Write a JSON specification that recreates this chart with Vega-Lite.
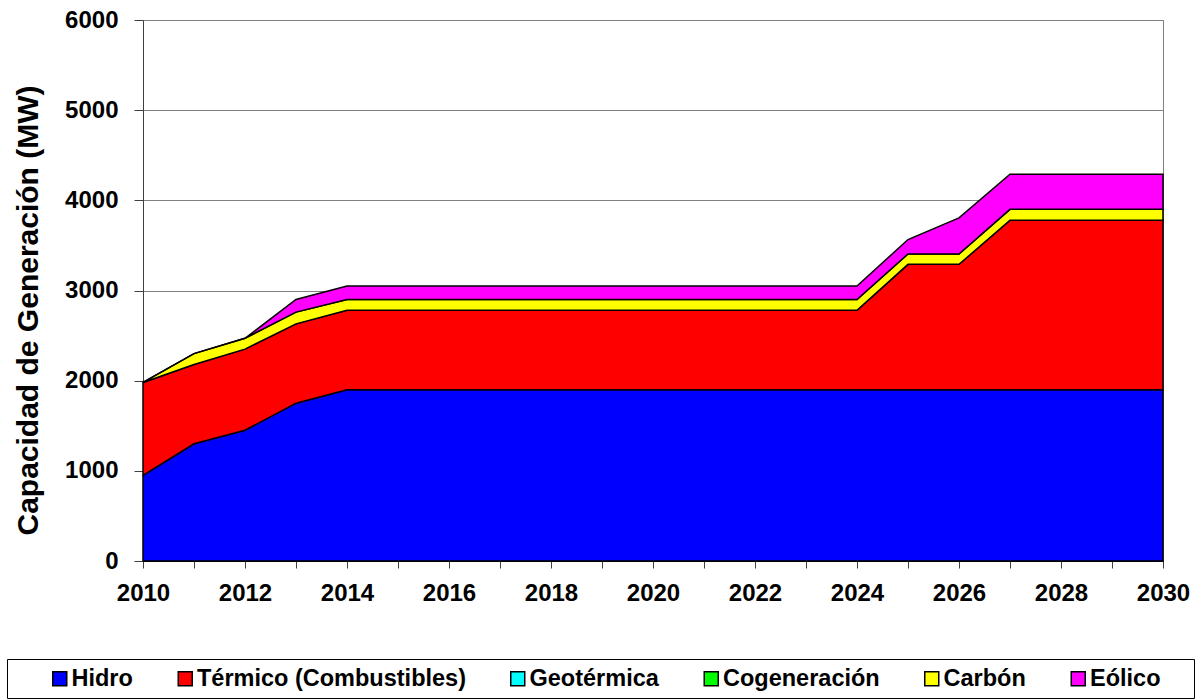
{
  "$schema": "https://vega.github.io/schema/vega-lite/v6.json",
  "width": 1020,
  "height": 541,
  "autosize": {"type": "none"},
  "padding": {"left": 143, "top": 20, "right": 38, "bottom": 138},
  "background": "white",
  "config": {
    "font": "Liberation Sans",
    "view": {"stroke": "#808080", "strokeWidth": 1}
  },
  "data": {
    "values": [
      {"anio": 2010, "fuente": "Hidro", "orden": 1, "mw": 950},
      {"anio": 2011, "fuente": "Hidro", "orden": 1, "mw": 1300},
      {"anio": 2012, "fuente": "Hidro", "orden": 1, "mw": 1450},
      {"anio": 2013, "fuente": "Hidro", "orden": 1, "mw": 1750},
      {"anio": 2014, "fuente": "Hidro", "orden": 1, "mw": 1900},
      {"anio": 2015, "fuente": "Hidro", "orden": 1, "mw": 1900},
      {"anio": 2016, "fuente": "Hidro", "orden": 1, "mw": 1900},
      {"anio": 2017, "fuente": "Hidro", "orden": 1, "mw": 1900},
      {"anio": 2018, "fuente": "Hidro", "orden": 1, "mw": 1900},
      {"anio": 2019, "fuente": "Hidro", "orden": 1, "mw": 1900},
      {"anio": 2020, "fuente": "Hidro", "orden": 1, "mw": 1900},
      {"anio": 2021, "fuente": "Hidro", "orden": 1, "mw": 1900},
      {"anio": 2022, "fuente": "Hidro", "orden": 1, "mw": 1900},
      {"anio": 2023, "fuente": "Hidro", "orden": 1, "mw": 1900},
      {"anio": 2024, "fuente": "Hidro", "orden": 1, "mw": 1900},
      {"anio": 2025, "fuente": "Hidro", "orden": 1, "mw": 1900},
      {"anio": 2026, "fuente": "Hidro", "orden": 1, "mw": 1900},
      {"anio": 2027, "fuente": "Hidro", "orden": 1, "mw": 1900},
      {"anio": 2028, "fuente": "Hidro", "orden": 1, "mw": 1900},
      {"anio": 2029, "fuente": "Hidro", "orden": 1, "mw": 1900},
      {"anio": 2030, "fuente": "Hidro", "orden": 1, "mw": 1900},
      {"anio": 2010, "fuente": "Térmico (Combustibles)", "orden": 2, "mw": 1030},
      {"anio": 2011, "fuente": "Térmico (Combustibles)", "orden": 2, "mw": 880},
      {"anio": 2012, "fuente": "Térmico (Combustibles)", "orden": 2, "mw": 900},
      {"anio": 2013, "fuente": "Térmico (Combustibles)", "orden": 2, "mw": 880},
      {"anio": 2014, "fuente": "Térmico (Combustibles)", "orden": 2, "mw": 880},
      {"anio": 2015, "fuente": "Térmico (Combustibles)", "orden": 2, "mw": 880},
      {"anio": 2016, "fuente": "Térmico (Combustibles)", "orden": 2, "mw": 880},
      {"anio": 2017, "fuente": "Térmico (Combustibles)", "orden": 2, "mw": 880},
      {"anio": 2018, "fuente": "Térmico (Combustibles)", "orden": 2, "mw": 880},
      {"anio": 2019, "fuente": "Térmico (Combustibles)", "orden": 2, "mw": 880},
      {"anio": 2020, "fuente": "Térmico (Combustibles)", "orden": 2, "mw": 880},
      {"anio": 2021, "fuente": "Térmico (Combustibles)", "orden": 2, "mw": 880},
      {"anio": 2022, "fuente": "Térmico (Combustibles)", "orden": 2, "mw": 880},
      {"anio": 2023, "fuente": "Térmico (Combustibles)", "orden": 2, "mw": 880},
      {"anio": 2024, "fuente": "Térmico (Combustibles)", "orden": 2, "mw": 880},
      {"anio": 2025, "fuente": "Térmico (Combustibles)", "orden": 2, "mw": 1390},
      {"anio": 2026, "fuente": "Térmico (Combustibles)", "orden": 2, "mw": 1390},
      {"anio": 2027, "fuente": "Térmico (Combustibles)", "orden": 2, "mw": 1880},
      {"anio": 2028, "fuente": "Térmico (Combustibles)", "orden": 2, "mw": 1880},
      {"anio": 2029, "fuente": "Térmico (Combustibles)", "orden": 2, "mw": 1880},
      {"anio": 2030, "fuente": "Térmico (Combustibles)", "orden": 2, "mw": 1880},
      {"anio": 2010, "fuente": "Carbón", "orden": 5, "mw": 0},
      {"anio": 2011, "fuente": "Carbón", "orden": 5, "mw": 120},
      {"anio": 2012, "fuente": "Carbón", "orden": 5, "mw": 120},
      {"anio": 2013, "fuente": "Carbón", "orden": 5, "mw": 130},
      {"anio": 2014, "fuente": "Carbón", "orden": 5, "mw": 120},
      {"anio": 2015, "fuente": "Carbón", "orden": 5, "mw": 120},
      {"anio": 2016, "fuente": "Carbón", "orden": 5, "mw": 120},
      {"anio": 2017, "fuente": "Carbón", "orden": 5, "mw": 120},
      {"anio": 2018, "fuente": "Carbón", "orden": 5, "mw": 120},
      {"anio": 2019, "fuente": "Carbón", "orden": 5, "mw": 120},
      {"anio": 2020, "fuente": "Carbón", "orden": 5, "mw": 120},
      {"anio": 2021, "fuente": "Carbón", "orden": 5, "mw": 120},
      {"anio": 2022, "fuente": "Carbón", "orden": 5, "mw": 120},
      {"anio": 2023, "fuente": "Carbón", "orden": 5, "mw": 120},
      {"anio": 2024, "fuente": "Carbón", "orden": 5, "mw": 120},
      {"anio": 2025, "fuente": "Carbón", "orden": 5, "mw": 115},
      {"anio": 2026, "fuente": "Carbón", "orden": 5, "mw": 115},
      {"anio": 2027, "fuente": "Carbón", "orden": 5, "mw": 120},
      {"anio": 2028, "fuente": "Carbón", "orden": 5, "mw": 120},
      {"anio": 2029, "fuente": "Carbón", "orden": 5, "mw": 120},
      {"anio": 2030, "fuente": "Carbón", "orden": 5, "mw": 120},
      {"anio": 2010, "fuente": "Eólico", "orden": 6, "mw": 0},
      {"anio": 2011, "fuente": "Eólico", "orden": 6, "mw": 0},
      {"anio": 2012, "fuente": "Eólico", "orden": 6, "mw": 0},
      {"anio": 2013, "fuente": "Eólico", "orden": 6, "mw": 140},
      {"anio": 2014, "fuente": "Eólico", "orden": 6, "mw": 150},
      {"anio": 2015, "fuente": "Eólico", "orden": 6, "mw": 150},
      {"anio": 2016, "fuente": "Eólico", "orden": 6, "mw": 150},
      {"anio": 2017, "fuente": "Eólico", "orden": 6, "mw": 150},
      {"anio": 2018, "fuente": "Eólico", "orden": 6, "mw": 150},
      {"anio": 2019, "fuente": "Eólico", "orden": 6, "mw": 150},
      {"anio": 2020, "fuente": "Eólico", "orden": 6, "mw": 150},
      {"anio": 2021, "fuente": "Eólico", "orden": 6, "mw": 150},
      {"anio": 2022, "fuente": "Eólico", "orden": 6, "mw": 150},
      {"anio": 2023, "fuente": "Eólico", "orden": 6, "mw": 150},
      {"anio": 2024, "fuente": "Eólico", "orden": 6, "mw": 150},
      {"anio": 2025, "fuente": "Eólico", "orden": 6, "mw": 160},
      {"anio": 2026, "fuente": "Eólico", "orden": 6, "mw": 400},
      {"anio": 2027, "fuente": "Eólico", "orden": 6, "mw": 390},
      {"anio": 2028, "fuente": "Eólico", "orden": 6, "mw": 390},
      {"anio": 2029, "fuente": "Eólico", "orden": 6, "mw": 390},
      {"anio": 2030, "fuente": "Eólico", "orden": 6, "mw": 390}
    ]
  },
  "mark": {"type": "area", "interpolate": "linear", "stroke": "black", "strokeWidth": 1.5, "opacity": 1},
  "encoding": {
    "x": {
      "field": "anio",
      "type": "quantitative",
      "scale": {"domain": [2010, 2030], "nice": false, "zero": false},
      "axis": {
        "title": null,
        "values": [2010, 2011, 2012, 2013, 2014, 2015, 2016, 2017, 2018, 2019, 2020, 2021, 2022, 2023, 2024, 2025, 2026, 2027, 2028, 2029, 2030],
        "format": "d",
        "labelExpr": "datum.value % 2 == 0 ? datum.label : ''",
        "grid": false,
        "tickSize": 7,
        "tickColor": "#404040",
        "domainColor": "#000000",
        "labelPadding": 13,
        "labelFontSize": 24,
        "labelFontWeight": "bold",
        "labelColor": "#000000",
        "labelFlush": false,
        "labelOverlap": false
      }
    },
    "y": {
      "field": "mw",
      "type": "quantitative",
      "stack": "zero",
      "scale": {"domain": [0, 6000], "nice": false},
      "axis": {
        "title": "Capacidad de Generación (MW)",
        "values": [0, 1000, 2000, 3000, 4000, 5000, 6000],
        "format": "d",
        "grid": true,
        "gridColor": "#808080",
        "gridWidth": 1,
        "tickSize": 9,
        "tickColor": "#404040",
        "domainColor": "#404040",
        "labelPadding": 16,
        "labelFontSize": 24,
        "labelFontWeight": "bold",
        "labelColor": "#000000",
        "titleFontSize": 30,
        "titleFontWeight": "bold",
        "titleColor": "#000000",
        "titleX": -100,
        "titleY": 290
      }
    },
    "order": {"field": "orden", "type": "quantitative", "sort": "ascending"},
    "color": {
      "field": "fuente",
      "type": "nominal",
      "sort": ["Hidro", "Térmico (Combustibles)", "Geotérmica", "Cogeneración", "Carbón", "Eólico"],
      "scale": {
        "domain": ["Hidro", "Térmico (Combustibles)", "Geotérmica", "Cogeneración", "Carbón", "Eólico"],
        "range": ["#0000FF", "#FF0000", "#00FFFF", "#00FF00", "#FFFF00", "#FF00FF"]
      },
      "legend": {
        "title": " ",
        "titleOrient": "right",
        "titleFontSize": 1,
        "titlePadding": 26,
        "orient": "none",
        "legendX": -136,
        "legendY": 639,
        "direction": "horizontal",
        "columns": 6,
        "symbolType": "square",
        "symbolSize": 196,
        "symbolStrokeColor": "#000000",
        "symbolStrokeWidth": 1.5,
        "symbolOpacity": 1,
        "labelFontSize": 23.5,
        "labelFontWeight": "bold",
        "labelColor": "#000000",
        "labelLimit": 400,
        "symbolOffset": 33.5,
        "labelOffset": 0,
        "columnPadding": 6.5,
        "padding": 7.5,
        "strokeColor": "#000000"
      }
    }
  }
}
